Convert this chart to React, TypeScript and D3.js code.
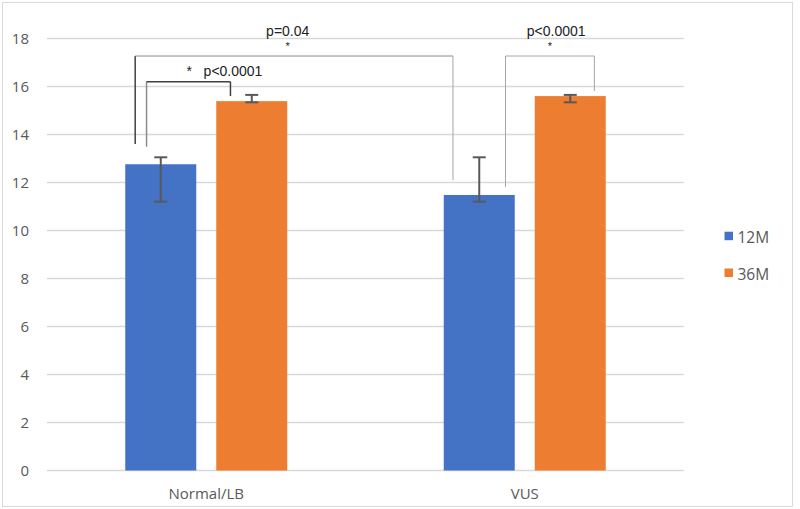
import React from 'react';
import * as d3 from 'd3';

const categories = ['Normal/LB', 'VUS'];
const series = ['12M', '36M'];
const colors = ['#4472C4', '#ED7D31'];
// values[series][category]
const values = [
  [12.76, 11.48],
  [15.39, 15.6],
];
const errLow = [
  [11.2, 11.2],
  [15.34, 15.34],
];
const errHigh = [
  [13.05, 13.05],
  [15.65, 15.65],
];
const yTicks = [0, 2, 4, 6, 8, 10, 12, 14, 16, 18];

// significance brackets: ends are [category, series, fraction across bar]
const brackets = [
  { from: [0, 0, 0.14], to: [1, 0, 0.13], top: 17.27, fromBottom: 13.6, toBottom: 12.1, label: 'p=0.04', star: true, labelAt: 0.48, starAt: 0.48, kind: 'outer' },
  { from: [0, 0, 0.3], to: [0, 1, 0.2], top: 16.2, fromBottom: 13.49, toBottom: 15.6, label: 'p<0.0001', star: true, labelAt: 0.68, starAt: 0.51, kind: 'inner' },
  { from: [1, 0, 0.87], to: [1, 1, 0.84], top: 17.27, fromBottom: 11.81, toBottom: 15.81, label: 'p<0.0001', star: true, labelAt: 0.57, starAt: 0.5, kind: 'right' },
];

const W = 800;
const H = 509;
const tickFont = '"Open Sans", sans-serif';
const noteFont = '"Liberation Sans", Arial, sans-serif';

export default function App() {
  const x0 = d3.scaleBand().domain(categories).range([47, 684]).paddingInner(0).paddingOuter(0);
  const groupW = 162;
  const x1 = d3.scaleBand().domain(series).range([0, groupW]).paddingInner(20 / 91);
  const groupOff = (x0.bandwidth() - groupW) / 2;
  const y = d3.scaleLinear().domain([0, 18]).range([470.5, 38.5]);

  const barX = (c: number, s: number) => (x0(categories[c]) as number) + groupOff + (x1(series[s]) as number);
  const endX = (e: number[]) => barX(e[0], e[1]) + e[2] * x1.bandwidth();
  const capW = 13;

  return (
    <svg width={W} height={H} style={{ position: 'absolute', left: 0, top: 0, background: '#fff' }}>
      <rect x={2.5} y={2.5} width={790} height={504} fill="#fff" stroke="#d9d9d9" strokeWidth={1} />
      {yTicks.map(t => (
        <g key={t}>
          <line x1={47} x2={684} y1={y(t)} y2={y(t)} stroke="#d9d9d9" strokeWidth={1.5} />
          <text x={29} y={y(t)} dy="0.36em" textAnchor="end" fontFamily={tickFont} fontSize={15} fill="#595959">{t}</text>
        </g>
      ))}
      {series.map((s, si) => (
        <g key={s}>
          {categories.map((c, ci) => {
            const bx = barX(ci, si);
            const cx = bx + x1.bandwidth() / 2;
            return (
              <g key={c}>
                <rect x={bx} y={y(values[si][ci])} width={x1.bandwidth()} height={y(0) - y(values[si][ci])} fill={colors[si]} />
                <line x1={cx} x2={cx} y1={y(errHigh[si][ci])} y2={y(errLow[si][ci])} stroke="#595959" strokeWidth={2} />
                <line x1={cx - capW / 2} x2={cx + capW / 2} y1={y(errHigh[si][ci])} y2={y(errHigh[si][ci])} stroke="#595959" strokeWidth={2} />
                <line x1={cx - capW / 2} x2={cx + capW / 2} y1={y(errLow[si][ci])} y2={y(errLow[si][ci])} stroke="#595959" strokeWidth={2} />
              </g>
            );
          })}
        </g>
      ))}
      {categories.map(c => (
        <text key={c} x={(x0(c) as number) + x0.bandwidth() / 2} y={499} textAnchor="middle" fontFamily={tickFont} fontSize={15} fill="#595959">{c}</text>
      ))}
      {brackets.map((b, i) => {
        const xa = endX(b.from);
        const xb = endX(b.to);
        const yt = y(b.top);
        const dark = '#404040';
        const mid = '#8c8c8c';
        const light = '#a6a6a6';
        const st = b.kind === 'outer'
          ? [[dark, 1.5], [mid, 1], [light, 1]]
          : b.kind === 'inner'
            ? [[mid, 1.5], [dark, 1.5], [dark, 1.5]]
            : [[light, 1], [light, 1], [light, 1]];
        const lx = xa + b.labelAt * (xb - xa);
        const sx = xa + b.starAt * (xb - xa);
        return (
          <g key={i}>
            <line x1={xa} x2={xa} y1={y(b.fromBottom)} y2={yt} stroke={st[0][0] as string} strokeWidth={st[0][1] as number} />
            <line x1={xa} x2={xb} y1={yt} y2={yt} stroke={st[1][0] as string} strokeWidth={st[1][1] as number} />
            <line x1={xb} x2={xb} y1={yt} y2={y(b.toBottom)} stroke={st[2][0] as string} strokeWidth={st[2][1] as number} />
            {b.kind === 'inner' ? (
              <>
                <text x={sx} y={yt - 5.5} textAnchor="middle" fontFamily={noteFont} fontSize={14} fill="#222">*</text>
                <text x={lx} y={yt - 5.5} textAnchor="start" fontFamily={noteFont} fontSize={14} fill="#222">{b.label}</text>
              </>
            ) : (
              <>
                <text x={lx} y={yt - 20} textAnchor="middle" fontFamily={noteFont} fontSize={14} fill="#222">{b.label}</text>
                <text x={sx} y={yt - 6} textAnchor="middle" fontFamily={noteFont} fontSize={11} fill="#222">*</text>
              </>
            )}
          </g>
        );
      })}
      {series.map((s, i) => (
        <g key={s} transform={`translate(724.5, ${231.7 + i * 36.8})`}>
          <rect width={8.5} height={8.5} fill={colors[i]} />
          <text x={13} y={11.5} fontFamily={tickFont} fontSize={15.5} fill="#595959">{s}</text>
        </g>
      ))}
    </svg>
  );
}
